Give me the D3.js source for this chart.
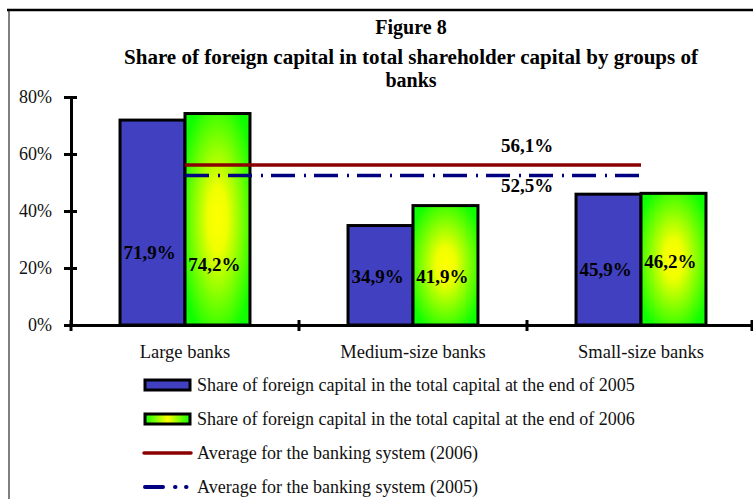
<!DOCTYPE html>
<html>
<head>
<meta charset="utf-8">
<script src="https://cdn.jsdelivr.net/npm/d3@7"></script>
<style>
  body { margin: 0; background: #fff; }
  svg { display: block; font-family: "Liberation Serif", "Times New Roman", serif; }
</style>
</head>
<body>
<div id="chart"></div>
<script>
// data
const categories = ["Large banks", "Medium-size banks", "Small-size banks"];
const series = ["2005", "2006"];
const share2005 = [0.719, 0.349, 0.459];
const share2006 = [0.742, 0.419, 0.462];
const labels2005 = ["71,9%", "34,9%", "45,9%"];
const labels2006 = ["74,2%", "41,9%", "46,2%"];
// height (in value units) where each bar label sits
const labelLevel2005 = [0.253, 0.168, 0.193];
const labelLevel2006 = [0.211, 0.168, 0.222];
const avg2006 = 0.561, avg2005 = 0.525;
const avgLabels = ["56,1%", "52,5%"];
const yTicks = [0, 0.2, 0.4, 0.6, 0.8];
const legendItems = [
  "Share of foreign capital in the total capital at the end of 2005",
  "Share of foreign capital in the total capital at the end of 2006",
  "Average for the banking system (2006)",
  "Average for the banking system (2005)"
];

const W = 753, H = 499;
const svg = d3.select("#chart").append("svg").attr("width", W).attr("height", H);

// gradient for 2006 bars
const defs = svg.append("defs");
const grad = defs.append("radialGradient").attr("id", "g2006")
    .attr("cx", "50%").attr("cy", "50%").attr("r", "60%");
grad.append("stop").attr("offset", "0%").attr("stop-color", "#ffff00");
grad.append("stop").attr("offset", "25%").attr("stop-color", "#f0ff00");
grad.append("stop").attr("offset", "100%").attr("stop-color", "#10ff00");
const lgrad = defs.append("linearGradient").attr("id", "lg2006");
lgrad.append("stop").attr("offset", "0%").attr("stop-color", "#10ff00");
lgrad.append("stop").attr("offset", "50%").attr("stop-color", "#ffff00");
lgrad.append("stop").attr("offset", "100%").attr("stop-color", "#10ff00");

const fills = { "2005": "#4040c0", "2006": "url(#g2006)" };

// frame
svg.append("line").attr("x1", 7).attr("x2", W).attr("y1", 10).attr("y2", 10)
    .attr("stroke", "#000").attr("stroke-width", 2.5);
svg.append("line").attr("x1", 9).attr("x2", 9).attr("y1", 10).attr("y2", H)
    .attr("stroke", "#000").attr("stroke-width", 1);

// title
const title = svg.append("text").attr("text-anchor", "middle")
    .attr("font-weight", "bold").style("font-size", "20px");
title.append("tspan").attr("x", 411).attr("y", 34).text("Figure 8");
title.append("tspan").attr("x", 411).attr("y", 64)
    .attr("textLength", 574).attr("lengthAdjust", "spacingAndGlyphs")
    .text("Share of foreign capital  in total shareholder capital by groups of");
title.append("tspan").attr("x", 411).attr("y", 87).text("banks");

// scales
const x0 = d3.scaleBand().domain(categories).range([71, 755]).padding(0);
const bw = x0.bandwidth();
const x1 = d3.scaleBand().domain(series).range([bw * 0.215, bw * 0.785]).padding(0);
const y = d3.scaleLinear().domain([0, 0.8]).range([325, 97]);

// bars
const rows = categories.map((c, i) => ({
  cat: c,
  vals: [
    { s: "2005", v: share2005[i], label: labels2005[i], lv: labelLevel2005[i] },
    { s: "2006", v: share2006[i], label: labels2006[i], lv: labelLevel2006[i] }
  ]
}));

const groups = svg.append("g").selectAll("g").data(rows).join("g")
    .attr("transform", d => `translate(${x0(d.cat)},0)`);

groups.selectAll("rect").data(d => d.vals).join("rect")
    .attr("x", d => x1(d.s))
    .attr("y", d => y(d.v))
    .attr("width", x1.bandwidth())
    .attr("height", d => y(0) - y(d.v))
    .attr("fill", d => fills[d.s])
    .attr("stroke", "#000")
    .attr("stroke-width", 3);

groups.selectAll("text").data(d => d.vals).join("text")
    .attr("x", d => x1(d.s) + x1.bandwidth() / 2 - 3)
    .attr("y", d => y(d.lv) + 6)
    .attr("text-anchor", "middle")
    .attr("font-weight", "bold")
    .style("font-size", "19px")
    .text(d => d.label);

// y axis
const yAxis = svg.append("g").attr("transform", "translate(71,0)")
    .call(d3.axisLeft(y).tickValues(yTicks).tickFormat(d => Math.round(d * 100) + "%").tickSizeOuter(0));
yAxis.attr("font-family", null).attr("font-size", null);
yAxis.select(".domain").attr("stroke-width", 3);
yAxis.selectAll(".tick line").attr("x1", 6).attr("x2", -7).attr("stroke-width", 3);
yAxis.selectAll(".tick text").attr("x", -19).style("font-size", "18px").attr("fill", "#111");

// x axis
const xAxis = svg.append("g").attr("transform", `translate(0,${y(0)})`)
    .call(d3.axisBottom(x0).tickSize(0).tickPadding(20));
xAxis.attr("font-family", null).attr("font-size", null);
xAxis.select(".domain").attr("d", `M64,0.5H${W}`).attr("stroke-width", 3);
xAxis.selectAll(".tick text").style("font-size", "18.5px").attr("fill", "#111");
const bounds = categories.map(c => x0(c)).concat([x0.range()[1] - 3]);
xAxis.selectAll(".bound").data(bounds).join("line").attr("class", "bound")
    .attr("x1", d => d).attr("x2", d => d).attr("y1", -5).attr("y2", 6)
    .attr("stroke", "#000").attr("stroke-width", 3);

// average lines
const xs = x0(categories[0]) + bw / 2, xe = x0(categories[categories.length - 1]) + bw / 2;
svg.append("line").attr("x1", xs).attr("x2", xe).attr("y1", y(avg2006)).attr("y2", y(avg2006))
    .attr("stroke", "#8b0000").attr("stroke-width", 3.5);
svg.append("line").attr("x1", xs).attr("x2", xe).attr("y1", y(avg2005)).attr("y2", y(avg2005))
    .attr("stroke", "#000080").attr("stroke-width", 3.5)
    .attr("stroke-dasharray", "24,9,2,8");
const midX = x0(categories[1]) + bw;
svg.append("text").attr("x", midX).attr("y", y(avg2006) - 13)
    .attr("text-anchor", "middle").attr("font-weight", "bold").style("font-size", "19px")
    .text(avgLabels[0]);
svg.append("text").attr("x", midX).attr("y", y(avg2005) + 17)
    .attr("text-anchor", "middle").attr("font-weight", "bold").style("font-size", "19px")
    .text(avgLabels[1]);

// legend
const legend = svg.append("g").attr("transform", "translate(145,385)");
legendItems.forEach((t, i) => {
  const g = legend.append("g").attr("transform", `translate(0,${i * 34})`);
  if (i === 0 || i === 1) {
    g.append("rect").attr("x", 0).attr("y", -5).attr("width", 45).attr("height", 10)
        .attr("fill", i === 0 ? "#4040c0" : "url(#lg2006)")
        .attr("stroke", "#000").attr("stroke-width", 3);
  } else if (i === 2) {
    g.append("line").attr("x1", -1).attr("x2", 46).attr("y1", 0).attr("y2", 0)
        .attr("stroke", "#8b0000").attr("stroke-width", 3.5).attr("stroke-linecap", "round");
  } else {
    g.append("line").attr("x1", 0).attr("x2", 46).attr("y1", 0).attr("y2", 0)
        .attr("stroke", "#000080").attr("stroke-width", 4).attr("stroke-linecap", "round")
        .attr("stroke-dasharray", "18,12,0.5,10.5,0.5,100");
  }
  g.append("text").attr("x", 52).attr("y", 6).style("font-size", "18px")
      .attr("fill", "#111").text(t);
});
</script>
</body>
</html>
